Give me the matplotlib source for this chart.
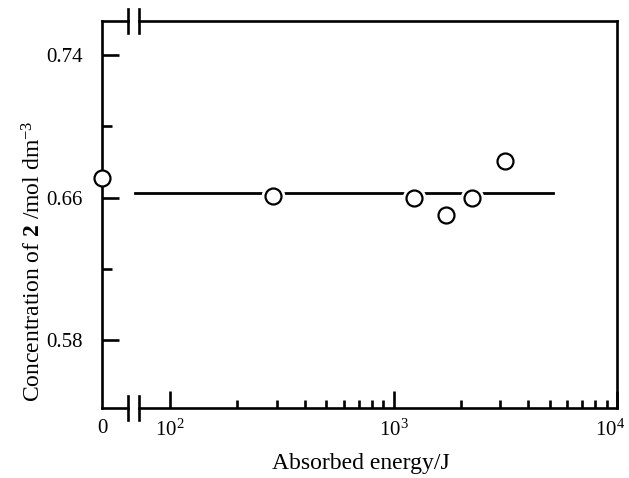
import numpy as np
import matplotlib.pyplot as plt
from matplotlib.ticker import FixedLocator, NullFormatter, LogFormatterSciNotation
from matplotlib.transforms import ScaledTranslation

plt.rcParams['font.family'] = ['Liberation Serif', 'DejaVu Serif']
plt.rcParams['mathtext.fontset'] = 'custom'
plt.rcParams['mathtext.rm'] = 'Liberation Serif'
plt.rcParams['mathtext.bf'] = 'Liberation Serif:bold'
plt.rcParams['mathtext.it'] = 'Liberation Serif:italic'

# donnees
c_zero = 0.6707                      # point a energie nulle
energy = [290, 1230, 1710, 2240, 3150]  # J
conc = [0.6606, 0.6600, 0.6504, 0.6600, 0.6803]
fit_x = [70, 5150]
fit_y = [0.6628, 0.6628]
yticks_major = [0.58, 0.66, 0.74]
yticks_minor = [0.62, 0.70]
ylim = (0.5417, 0.7592)
xlim = (72.6, 1e4)

W, H = 629, 478
def box(l, r, t, b):
    return [l / W, 1 - b / H, (r - l) / W, (b - t) / H]

fig = plt.figure(figsize=(W / 100, H / 100), dpi=100)
ax0 = fig.add_axes(box(102, 128, 21, 408))
ax1 = fig.add_axes(box(139, 617, 21, 408))

lw = 1.9
for ax in (ax0, ax1):
    ax.set_ylim(*ylim)
    for s in ax.spines.values():
        s.set_linewidth(lw)

# partie gauche : energie nulle
ax0.set_xlim(0, 1)
ax0.spines['right'].set_visible(False)
ax0.set_xticks([0])
ax0.set_xticklabels(['0'])
ax0.tick_params(axis='x', length=0, pad=8, labelsize=15)
ax0.set_yticks(yticks_major)
ax0.set_yticks(yticks_minor, minor=True)
ax0.set_yticklabels(['%.2f' % v for v in yticks_major])
ax0.tick_params(axis='y', which='major', direction='in', length=12, width=lw, pad=14, labelsize=15)
ax0.tick_params(axis='y', which='minor', direction='in', length=7, width=lw)
ax0.plot([0], [c_zero], 'o', ms=11.5, mfc='white', mec='black', mew=1.6, clip_on=False, zorder=5)

# partie droite : echelle log
ax1.set_xscale('log')
ax1.set_xlim(*xlim)
ax1.spines['left'].set_visible(False)
ax1.set_yticks([])
ax1.xaxis.set_major_locator(FixedLocator([1e2, 1e3, 1e4]))
ax1.xaxis.set_major_formatter(LogFormatterSciNotation())
minor = [k * 10**e for e in (2, 3) for k in range(2, 10)]
ax1.xaxis.set_minor_locator(FixedLocator(minor))
ax1.xaxis.set_minor_formatter(NullFormatter())
ax1.tick_params(axis='x', which='major', direction='in', length=12, width=lw, pad=8, labelsize=15)
ax1.tick_params(axis='x', which='minor', direction='in', length=6, width=lw)

# le 10^4 est decale un peu a gauche dans l'original
lab = ax1.get_xticklabels()[-1]
lab.set_transform(lab.get_transform() + ScaledTranslation(-7 / 100, 0, fig.dpi_scale_trans))

ax1.plot(fit_x, fit_y, color='black', lw=2.0, clip_on=False, zorder=2)
ax1.plot(energy, conc, 'o', ms=17, mfc='white', mec='white', mew=0, zorder=3)
ax1.plot(energy, conc, 'o', ms=11.5, mfc='white', mec='black', mew=1.6, zorder=4)

# marques de coupure de l'axe
d = 12 / 387
for ax, xb in ((ax0, 1), (ax1, 0)):
    for yb in (0, 1):
        ax.plot([xb, xb], [yb - d, yb + d], color='black', lw=lw,
                transform=ax.transAxes, clip_on=False)

fig.text(361 / W, 1 - 463 / H, 'Absorbed energy/J', ha='center', va='center', fontsize=17)
fig.text(34 / W, 1 - 261 / H, r'Concentration of $\mathbf{2}$ /mol dm$^{-3}$',
         ha='center', va='center', rotation=90, fontsize=17)

fig.savefig('out.png', dpi=100)
